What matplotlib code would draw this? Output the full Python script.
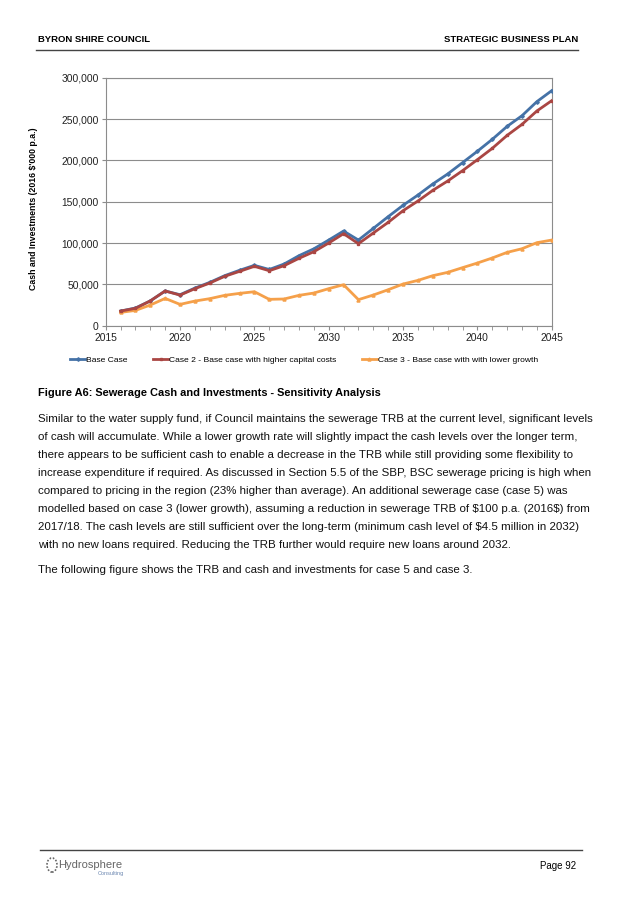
import matplotlib
matplotlib.use("Agg")
import matplotlib.pyplot as plt
from matplotlib.ticker import FuncFormatter, MultipleLocator
from matplotlib.patches import Circle

plt.rcParams['font.family'] = ['Liberation Sans', 'DejaVu Sans']
plt.rcParams['text.parse_math'] = False

years = list(range(2016, 2046))
base_case = [17700, 21400, 30000, 42000, 37500, 45500, 52400, 60500, 67000, 73000,
             68000, 74600, 84700, 93000, 103600, 114500, 103600, 117700, 131900, 145600,
             158000, 171400, 183500, 197200, 211000, 225400, 241100, 254000, 271000, 284300]
case2 = [17700, 21000, 30000, 42000, 37000, 44800, 51600, 59700, 65700, 71800,
         66500, 72600, 81500, 89500, 100000, 111300, 99200, 112100, 125000, 139100,
         150800, 163700, 175000, 187500, 200800, 214500, 230200, 243500, 259700, 272200]
case3 = [16100, 18500, 25000, 33000, 25800, 29800, 32700, 36700, 39100, 41100,
         31900, 32300, 36700, 39500, 44800, 49600, 31500, 37100, 43500, 50400,
         54800, 60500, 64500, 70200, 75800, 81900, 88700, 93100, 100400, 103600]
series_labels = ["Base Case", "Case 2 - Base case with higher capital costs",
                 "Case 3 - Base case with with lower growth"]

W, H = 642, 908
fig = plt.figure(figsize=(W / 100, H / 100), dpi=100)

def fx(px):
    return px / W

def fy(py):
    return 1 - py / H

x0, x1, ytop, ybot = 105.7, 551.7, 77.7, 325.7
ax = fig.add_axes([fx(x0), fy(ybot), (x1 - x0) / W, (ybot - ytop) / H])
ax.plot(years, base_case, color='#4572A7', lw=2.0, marker='D', ms=1.8, label=series_labels[0], zorder=3)
ax.plot(years, case2, color='#AA4643', lw=2.0, marker='s', ms=1.8, label=series_labels[1], zorder=4)
ax.plot(years, case3, color='#F5A04A', lw=2.0, marker='^', ms=2.2, label=series_labels[2], zorder=3)

ax.set_xlim(2015, 2045)
ax.set_ylim(0, 300000)
ax.xaxis.set_major_locator(MultipleLocator(5))
ax.xaxis.set_minor_locator(MultipleLocator(1))
ax.yaxis.set_major_locator(MultipleLocator(50000))
ax.yaxis.set_major_formatter(FuncFormatter(lambda v, p: f"{int(v):,}"))
ax.grid(axis='y', color='#8c8c8c', lw=0.8)
ax.set_axisbelow(True)
for s in ax.spines.values():
    s.set_color('#8c8c8c')
    s.set_linewidth(0.8)
ax.tick_params(axis='both', which='both', direction='out', colors='#8c8c8c', labelcolor='#222222', labelsize=7.4)
ax.tick_params(axis='both', which='major', length=3, pad=2)
ax.tick_params(axis='x', which='minor', length=3)
ax.set_ylabel("Cash and Investments (2016 $'000 p.a.)", fontsize=6.3, fontweight='bold')
ax.yaxis.set_label_coords((38 - x0) / (x1 - x0), (ybot - 209) / (ybot - ytop))

handles, labels = ax.get_legend_handles_labels()
fig.legend(handles, labels, loc='center', bbox_to_anchor=(fx(304), fy(360)), ncol=3, frameon=False,
           fontsize=6.1, handlelength=1.8, handletextpad=0.1, columnspacing=3.0)

# header
fig.text(fx(38), fy(40), "BYRON SHIRE COUNCIL", fontsize=6.8, fontweight='bold', va='center', ha='left')
fig.text(fx(578), fy(40), "STRATEGIC BUSINESS PLAN", fontsize=6.8, fontweight='bold', va='center', ha='right')
fig.add_artist(plt.Line2D([fx(36), fx(578)], [fy(50), fy(50)], color='#444444', lw=1.0))

# caption and body text
fig.text(fx(38), fy(393), "Figure A6: Sewerage Cash and Investments - Sensitivity Analysis",
         fontsize=7.9, fontweight='bold', va='center', ha='left')
body = [
    "Similar to the water supply fund, if Council maintains the sewerage TRB at the current level, significant levels",
    "of cash will accumulate. While a lower growth rate will slightly impact the cash levels over the longer term,",
    "there appears to be sufficient cash to enable a decrease in the TRB while still providing some flexibility to",
    "increase expenditure if required. As discussed in Section 5.5 of the SBP, BSC sewerage pricing is high when",
    "compared to pricing in the region (23% higher than average). An additional sewerage case (case 5) was",
    "modelled based on case 3 (lower growth), assuming a reduction in sewerage TRB of $100 p.a. (2016$) from",
    "2017/18. The cash levels are still sufficient over the long-term (minimum cash level of $4.5 million in 2032)",
    "with no new loans required. Reducing the TRB further would require new loans around 2032.",
]
for i, line in enumerate(body):
    fig.text(fx(38), fy(419 + 18 * i), line, fontsize=8.25, va='center', ha='left', color='#111111')
fig.text(fx(38), fy(570), "The following figure shows the TRB and cash and investments for case 5 and case 3.",
         fontsize=8.25, va='center', ha='left', color='#111111')

# footer
fig.add_artist(plt.Line2D([fx(40), fx(582)], [fy(850), fy(850)], color='#444444', lw=1.0))
fig.add_artist(Circle((fx(52), fy(865)), 5 / W, transform=fig.transFigure, fill=False,
                      ec='#666666', lw=1.2, ls=(0, (1, 1))))
fig.text(fx(58), fy(865), "Hydrosphere", fontsize=8, color='#666666', va='center', ha='left')
fig.text(fx(98), fy(873), "Consulting", fontsize=4, color='#6a86b0', va='center', ha='left')
fig.text(fx(576), fy(866), "Page 92", fontsize=7, va='center', ha='right')

fig.savefig("out.png", dpi=100)
